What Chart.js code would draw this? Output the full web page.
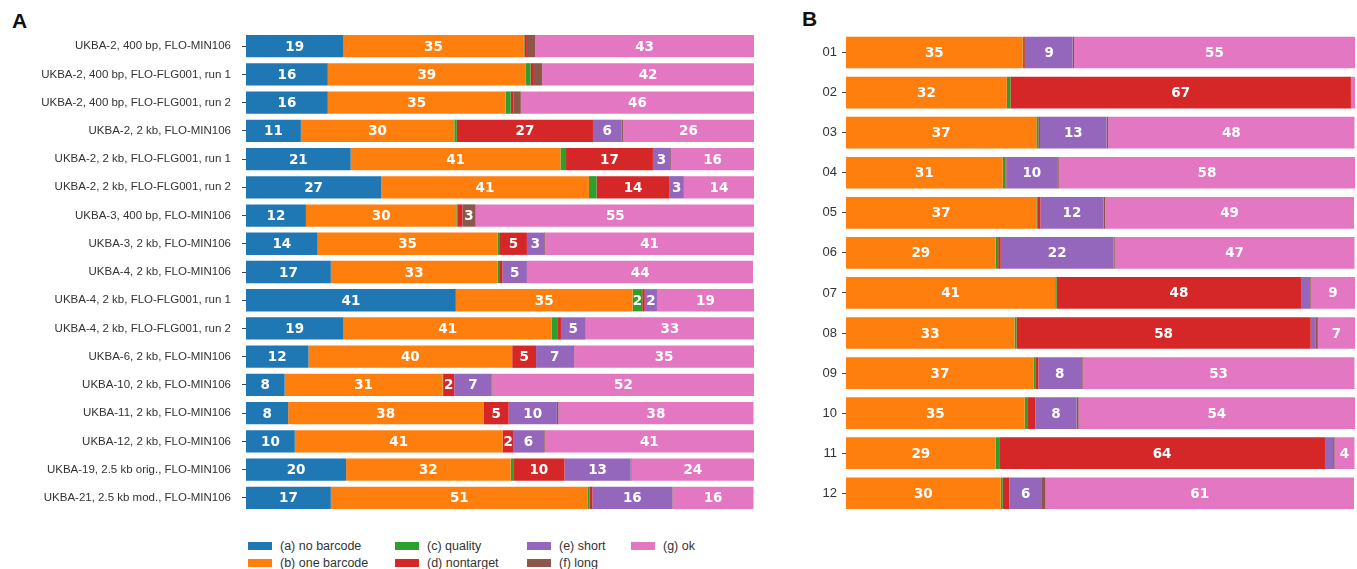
<!DOCTYPE html>
<html>
<head>
<meta charset="utf-8">
<script src="https://cdn.jsdelivr.net/npm/chart.js@4/dist/chart.umd.min.js"></script>
<style>
  body { margin: 0; background: #fff; width: 1357px; height: 569px; overflow: hidden; position: relative; font-family: "Liberation Sans", Arial, sans-serif; }
  .panel-letter { position: absolute; font-weight: bold; font-size: 21px; color: #111; }
  #wrapA { position: absolute; left: 0; top: 0; width: 760px; height: 530px; }
  #wrapB { position: absolute; left: 790px; top: 0; width: 567px; height: 530px; }
  #legend { position: absolute; left: 248px; top: 537px; display: grid; grid-auto-flow: column;
            grid-template-rows: 17px 17px; grid-template-columns: 147px 132px 104px auto;
            font-size: 12.5px; color: #333; }
  #legend .item { display: flex; align-items: center; white-space: nowrap; }
  #legend .sw { width: 24px; height: 8px; margin-right: 8px; }
</style>
</head>
<body>
<div class="panel-letter" style="left:12px;top:9px;">A</div>
<div class="panel-letter" style="left:802px;top:7px;">B</div>
<div id="wrapA"><canvas id="chartA"></canvas></div>
<div id="wrapB"><canvas id="chartB"></canvas></div>
<div id="legend"></div>

<script>
// ===============================
// categorías y series
// ===============================
const seriesNames = ['(a) no barcode', '(b) one barcode', '(c) quality', '(d) nontarget', '(e) short', '(f) long', '(g) ok'];
const seriesColors = ['#1f77b4', '#ff7f0e', '#2ca02c', '#d62728', '#9467bd', '#8c564b', '#e377c2'];

// panel A
const labelsA = [
    'UKBA-2, 400 bp, FLO-MIN106',
    'UKBA-2, 400 bp, FLO-FLG001, run 1',
    'UKBA-2, 400 bp, FLO-FLG001, run 2',
    'UKBA-2, 2 kb, FLO-MIN106',
    'UKBA-2, 2 kb, FLO-FLG001, run 1',
    'UKBA-2, 2 kb, FLO-FLG001, run 2',
    'UKBA-3, 400 bp, FLO-MIN106',
    'UKBA-3, 2 kb, FLO-MIN106',
    'UKBA-4, 2 kb, FLO-MIN106',
    'UKBA-4, 2 kb, FLO-FLG001, run 1',
    'UKBA-4, 2 kb, FLO-FLG001, run 2',
    'UKBA-6, 2 kb, FLO-MIN106',
    'UKBA-10, 2 kb, FLO-MIN106',
    'UKBA-11, 2 kb, FLO-MIN106',
    'UKBA-12, 2 kb, FLO-MIN106',
    'UKBA-19, 2.5 kb orig., FLO-MIN106',
    'UKBA-21, 2.5 kb mod., FLO-MIN106'
];
const noBarcodeA  = [19.2, 16.1, 16.1, 10.8, 20.6, 26.6, 11.8, 14.1, 16.7, 41.3, 19.2, 12.3, 7.6, 8.3, 9.6, 19.7, 16.7];
const oneBarcodeA = [35.4, 39.0, 35.0, 30.2, 41.3, 40.9, 29.6, 35.4, 32.8, 34.8, 41.0, 40.1, 31.1, 38.4, 40.9, 32.4, 50.6];
const qualityA    = [0.2, 0.9, 1.0, 0.5, 1.1, 1.5, 0.3, 0.5, 0.5, 1.9, 1.2, 0.0, 0.1, 0.1, 0.0, 0.5, 0.3];
const nontargetA  = [0.5, 0.5, 0.5, 26.8, 17.1, 14.4, 0.9, 5.3, 0.5, 0.5, 0.6, 4.7, 2.2, 4.9, 2.2, 10.1, 0.6];
const shortA      = [0.0, 0.0, 0.0, 5.6, 3.4, 2.8, 0.0, 3.4, 4.8, 2.4, 4.8, 7.3, 7.3, 9.5, 5.8, 13.0, 15.7];
const longA       = [1.6, 1.8, 1.5, 0.3, 0.2, 0.0, 2.6, 0.2, 0.1, 0.0, 0.1, 0.2, 0.2, 0.3, 0.3, 0.2, 0.1];
const okA         = [43.1, 41.7, 45.9, 25.8, 16.3, 13.8, 55.0, 41.1, 44.4, 19.1, 33.1, 35.4, 51.6, 38.4, 41.2, 24.1, 15.9];

// panel B
const labelsB = ['01', '02', '03', '04', '05', '06', '07', '08', '09', '10', '11', '12'];
const oneBarcodeB = [34.7, 31.6, 37.4, 30.8, 37.4, 29.4, 41.1, 33.1, 36.9, 35.1, 29.4, 30.4];
const qualityB    = [0.3, 0.7, 0.4, 0.5, 0.3, 0.5, 0.3, 0.4, 0.4, 0.5, 0.7, 0.4];
const nontargetB  = [0.3, 66.9, 0.3, 0.2, 0.5, 0.5, 48.0, 57.8, 0.5, 1.6, 64.0, 1.3];
const shortB      = [9.2, 0.0, 13.1, 10.0, 12.4, 22.2, 1.6, 0.9, 8.4, 8.1, 1.6, 6.4];
const longB       = [0.3, 0.0, 0.3, 0.3, 0.3, 0.2, 0.3, 0.5, 0.3, 0.4, 0.3, 0.7];
const okB         = [55.2, 0.8, 48.4, 58.2, 48.9, 47.1, 8.7, 7.3, 53.4, 54.3, 3.9, 60.6];

// ===============================
// etiquetas blancas dentro de las barras
// ===============================
const segmentLabels = {
    id: 'segmentLabels',
    afterDatasetsDraw(chart) {
        const ctx = chart.ctx;
        ctx.save();
        ctx.fillStyle = '#fff';
        ctx.font = 'bold 13.5px "DejaVu Sans", Verdana, sans-serif';
        ctx.textAlign = 'center';
        ctx.textBaseline = 'middle';
        chart.data.datasets.forEach((ds, i) => {
            const meta = chart.getDatasetMeta(i);
            meta.data.forEach((bar, j) => {
                const v = ds.data[j];
                if (v < 1.85) return;
                const p = bar.getCenterPoint();
                ctx.fillText(String(Math.round(v)), p.x, p.y + 1);
            });
        });
        ctx.restore();
    }
};

function makeDatasets(list) {
    return list.map(([idx, values]) => ({
        label: seriesNames[idx],
        data: values,
        backgroundColor: seriesColors[idx],
        borderWidth: 0,
        barPercentage: 0.79,
        categoryPercentage: 1.0
    }));
}

function makeChart(canvasId, labels, datasets, axisWidth, labelPad, fontSize, padding) {
    return new Chart(document.getElementById(canvasId), {
        type: 'bar',
        data: { labels: labels, datasets: datasets },
        options: {
            indexAxis: 'y',
            responsive: true,
            maintainAspectRatio: false,
            animation: false,
            layout: { padding: padding },
            plugins: { legend: { display: false }, tooltip: { enabled: false } },
            scales: {
                x: { stacked: true, min: 0, max: 100, display: false },
                y: {
                    stacked: true,
                    border: { display: false },
                    grid: { display: true, offset: false, drawOnChartArea: false, tickLength: 4, color: '#444', tickWidth: 1 },
                    ticks: {
                        padding: labelPad,
                        color: '#333',
                        font: { family: '"Liberation Sans", Arial, sans-serif', size: fontSize }
                    },
                    afterFit(scale) { scale.width = axisWidth; }
                }
            }
        },
        plugins: [segmentLabels]
    });
}

makeChart('chartA', labelsA, makeDatasets([
    [0, noBarcodeA], [1, oneBarcodeA], [2, qualityA], [3, nontargetA],
    [4, shortA], [5, longA], [6, okA]
]), 246, 11, 11.5, { top: 32, bottom: 18, right: 6, left: 0 });

makeChart('chartB', labelsB, makeDatasets([
    [1, oneBarcodeB], [2, qualityB], [3, nontargetB],
    [4, shortB], [5, longB], [6, okB]
]), 56, 5, 13, { top: 32.5, bottom: 16.7, right: 2, left: 0 });

// ===============================
// leyenda
// ===============================
const legend = document.getElementById('legend');
seriesNames.forEach((name, i) => {
    legend.innerHTML += `<div class="item"><span class="sw" style="background:${seriesColors[i]}"></span>${name}</div>`;
});
</script>
</body>
</html>
